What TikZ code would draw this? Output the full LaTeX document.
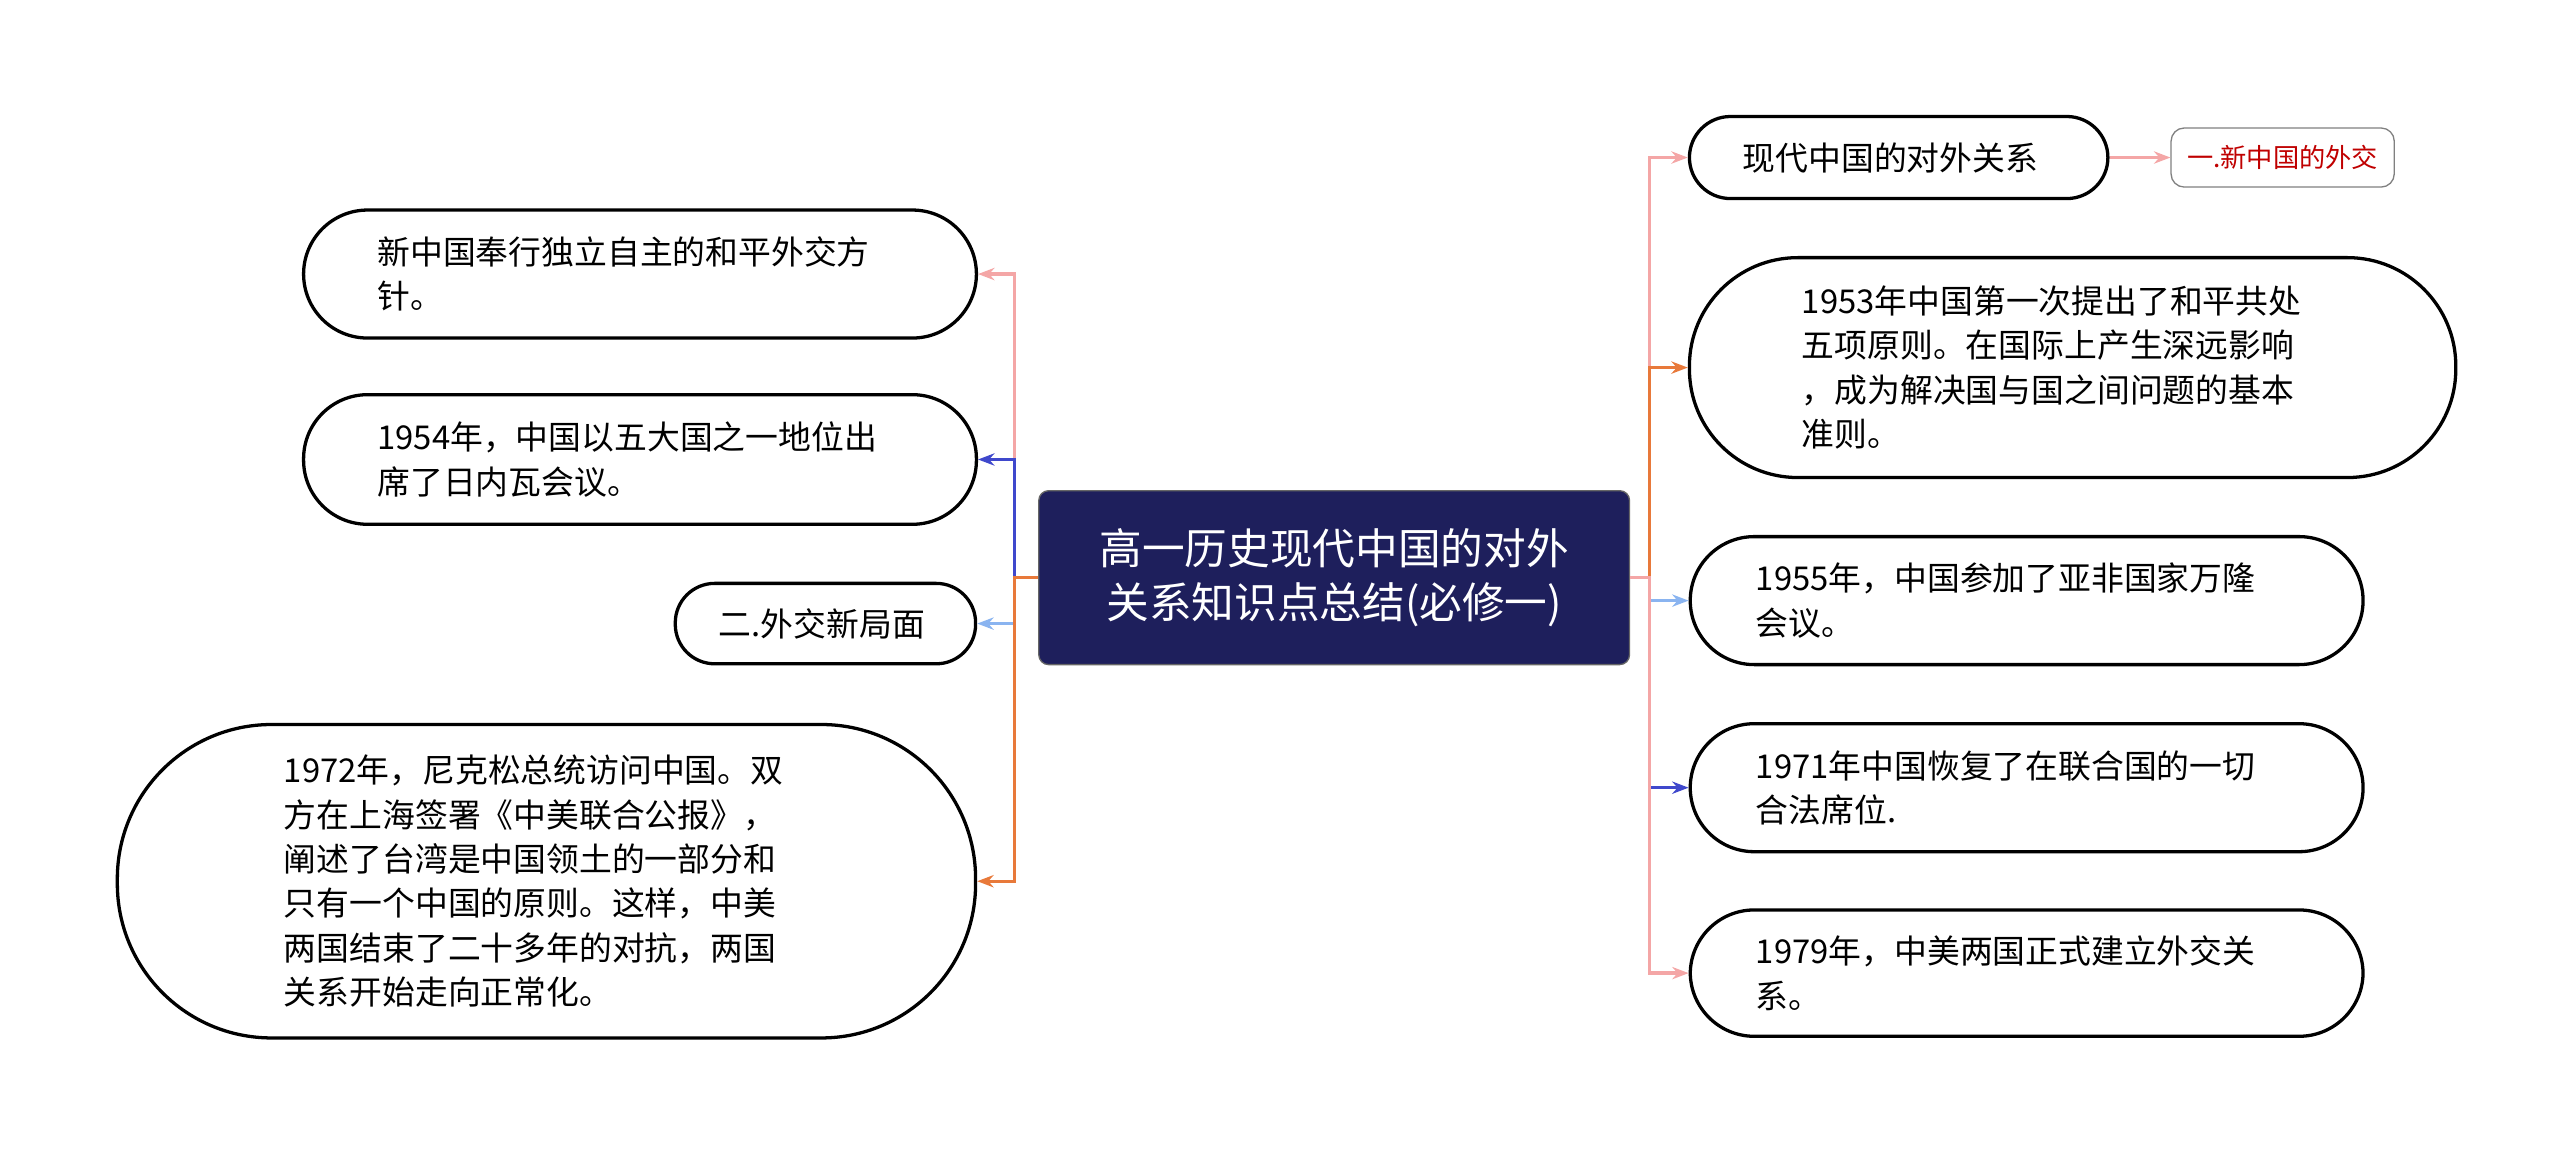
\documentclass[tikz,border=0pt]{standalone}
\usepackage{fontspec}
\setmainfont{Noto Sans CJK SC}
\usetikzlibrary{arrows.meta}
\definecolor{navy}{HTML}{1E1F5C}
\definecolor{cpink}{HTML}{F4A6A6}
\definecolor{cblue}{HTML}{3F48CC}
\definecolor{clight}{HTML}{8AB4F0}
\definecolor{corange}{HTML}{E8793A}
\definecolor{cred}{HTML}{C00000}
\newcommand{\arw}{-{Stealth[length=5pt]}}
\tikzset{
  leaf/.style={draw=black,line width=1pt,fill=white,align=left,font=\fontsize{10}{13.5}\selectfont,inner xsep=0pt},
}
\begin{document}
\begin{tikzpicture}[x=.5pt,y=-.5pt]
\useasboundingbox (0,0) rectangle (1560,700);
\node[fill=navy,draw=black!60,rounded corners=3pt,text=white,align=center,
  minimum width=180pt,minimum height=53pt,font=\fontsize{13}{16.5}\selectfont] (root) at (813,352)
  {高一历史现代中国的对外\\关系知识点总结(必修一)};
%left side
\node[leaf,rounded corners=19.5pt,minimum width=205pt,minimum height=39pt,text width=160pt] (l1) at (390,167)
  {新中国奉行独立自主的和平外交方\\针。};
\node[leaf,rounded corners=19.5pt,minimum width=205pt,minimum height=39.5pt,text width=160pt] (l2) at (390,280)
  {1954年，中国以五大国之一地位出\\席了日内瓦会议。};
\node[leaf,rounded corners=12pt,minimum width=91.5pt,minimum height=24.5pt,text width=65pt] (l3) at (503,380)
  {二.外交新局面};
\node[leaf,rounded corners=47pt,minimum width=261.5pt,minimum height=95.5pt,text width=160pt] (l4) at (333,537)
  {1972年，尼克松总统访问中国。双\\方在上海签署《中美联合公报》，\\阐述了台湾是中国领土的一部分和\\只有一个中国的原则。这样，中美\\两国结束了二十多年的对抗，两国\\关系开始走向正常化。};
%right side
\node[leaf,rounded corners=12.5pt,minimum width=127.5pt,minimum height=25pt,text width=95pt] (r1) at (1157,96)
  {现代中国的对外关系};
\node[draw=black!50,rounded corners=4pt,fill=white,text=cred,font=\fontsize{8}{10}\selectfont,
  minimum width=68pt,minimum height=18pt,inner sep=1pt] (r1a) at (1391,96) {一.新中国的外交};
\node[leaf,rounded corners=33pt,minimum width=233.5pt,minimum height=67pt,text width=165pt] (r2) at (1263,224)
  {1953年中国第一次提出了和平共处\\五项原则。在国际上产生深远影响\\，成为解决国与国之间问题的基本\\准则。};
\node[leaf,rounded corners=19.5pt,minimum width=205pt,minimum height=39pt,text width=165pt] (r3) at (1235,366)
  {1955年，中国参加了亚非国家万隆\\会议。};
\node[leaf,rounded corners=19.5pt,minimum width=205pt,minimum height=39pt,text width=165pt] (r4) at (1235,480)
  {1971年中国恢复了在联合国的一切\\合法席位.};
\node[leaf,rounded corners=19.5pt,minimum width=205pt,minimum height=38.5pt,text width=165pt] (r5) at (1235,593)
  {1979年，中美两国正式建立外交关\\系。};
\coordinate (lt) at (618,352);
\coordinate (rt) at (1005,352);
%connectors
\draw[cpink,line width=1pt,\arw] (root.west) -- (lt) |- (l1.east);
\draw[cblue,line width=1pt,\arw] (root.west) -- (lt) |- (l2.east);
\draw[clight,line width=1pt,\arw] (root.west) -- (lt) |- (l3.east);
\draw[corange,line width=1pt,\arw] (root.west) -- (lt) |- (l4.east);
\draw[cpink,line width=1pt,\arw] (root.east) -- (rt) |- (r1.west);
\draw[corange,line width=1pt,\arw] (root.east) -- (rt) |- (r2.west);
\draw[clight,line width=1pt,\arw] (root.east) -- (rt) |- (r3.west);
\draw[cblue,line width=1pt,\arw] (root.east) -- (rt) |- (r4.west);
\draw[cpink,line width=1pt,\arw] (root.east) -- (rt) |- (r5.west);
\draw[cpink,line width=1pt,\arw] (r1.east) -- (r1a.west);
\end{tikzpicture}
\end{document}
